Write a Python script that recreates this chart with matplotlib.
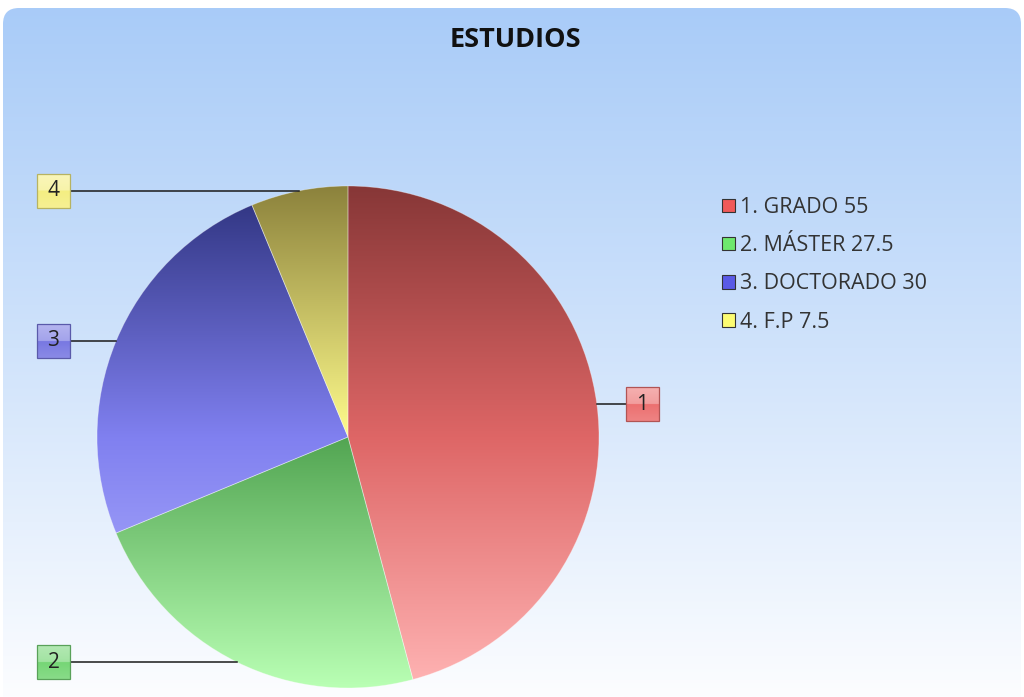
import numpy as np
import matplotlib
matplotlib.use("Agg")
import matplotlib.pyplot as plt
from matplotlib.patches import FancyBboxPatch, Rectangle, Patch

plt.rcParams['font.family'] = ['Open Sans', 'DejaVu Sans']

# data
title = "ESTUDIOS"
labels = ["GRADO", "MÁSTER", "DOCTORADO", "F.P"]
values = [55, 27.5, 30, 7.5]

# styles: vertical ramps (top, middle, bottom) for each slice
ramps = [
    [(135, 55, 55), (222, 102, 102), (255, 180, 180)],
    [(40, 110, 40), (82, 165, 82), (185, 255, 180)],
    [(45, 50, 125), (128, 128, 240), (185, 185, 255)],
    [(140, 130, 60), (255, 252, 140), (255, 255, 200)],
]
legend_colors = ["#f05a5a", "#6ee86e", "#5a5ae6", "#fcfc72"]
tag_colors = [(236, 112, 112), (118, 214, 118), (120, 120, 226), (244, 238, 130)]

W, H = 1024, 697
fig = plt.figure(figsize=(W / 100, H / 100), dpi=100)
ax = fig.add_axes([0, 0, 1, 1])


def ramp(stops, n=256):
    s = np.array(stops, dtype=float) / 255.0
    t = np.linspace(0, 1, n)
    out = np.empty((n, 1, 3))
    for k in range(3):
        out[:, 0, k] = np.interp(t, [0, 0.5, 1], s[:, k])
    return out


# background panel with rounded corners and blue->white gradient
panel = FancyBboxPatch((3, -20), W - 6, H - 8 + 20,
                       boxstyle="round,pad=0,rounding_size=16",
                       facecolor="none", edgecolor="none")
ax.add_patch(panel)
bg = ramp([(168, 203, 248), (208, 227, 251), (252, 253, 255)])
im = ax.imshow(bg, extent=(0, W, 0, H), aspect="auto", origin="upper", zorder=0)
im.set_clip_path(panel)

# pie
cx, cy, r = 348, H - 437, 251
wedges, _ = ax.pie(values, startangle=90, counterclock=False,
                   center=(cx, cy), radius=r,
                   wedgeprops=dict(facecolor="none", edgecolor=(1, 1, 1, 0.35),
                                   linewidth=0.6))
for w, stops in zip(wedges, ramps):
    g = ax.imshow(ramp(stops), extent=(cx - r, cx + r, cy - r, cy + r),
                  aspect="auto", origin="upper", zorder=1)
    g.set_clip_path(w)
    w.set_zorder(2)

# number tags with leader lines
tag_w, tag_h = 33, 34
for i, w in enumerate(wedges):
    ang = np.deg2rad((w.theta1 + w.theta2) / 2)
    px, py = cx + r * np.cos(ang), cy + r * np.sin(ang)
    if np.cos(ang) > 0:
        bx = px + 29
        lx = bx
    else:
        bx = 37
        lx = bx + tag_w
    ax.plot([px, lx], [py, py], color="#1a1a1a", lw=1.1, zorder=3)
    c = np.array(tag_colors[i]) / 255.0
    light = c + (1 - c) * 0.45
    tag = Rectangle((bx, py - tag_h / 2), tag_w, tag_h, facecolor="none",
                    edgecolor=tuple(c * 0.75), linewidth=0.9, zorder=5)
    ax.add_patch(tag)
    t = np.linspace(0, 1, 64)
    arr = np.empty((64, 1, 3))
    for k in range(3):
        arr[:, 0, k] = np.where(t < 0.5, light[k] + (c[k] - light[k]) * t * 0.6,
                                c[k] + (light[k] - c[k]) * (t - 0.5) * 0.6)
    gi = ax.imshow(arr, extent=(bx, bx + tag_w, py - tag_h / 2, py + tag_h / 2),
                   aspect="auto", origin="upper", zorder=4)
    gi.set_clip_path(tag)
    ax.text(bx + tag_w / 2, py, str(i + 1), ha="center", va="center",
            fontsize=15, color="#222222", zorder=6)

# legend
handles = [Patch(facecolor=c, edgecolor="#333333", linewidth=0.8) for c in legend_colors]
names = [f"{i + 1}. {lab} {v:g}" for i, (lab, v) in enumerate(zip(labels, values))]
ax.legend(handles, names, loc="upper left", bbox_to_anchor=(722 / W, 1 - 197 / H),
          frameon=False, fontsize=15.5, borderpad=0, borderaxespad=0,
          handlelength=0.6, handleheight=0.6, handletextpad=0.25,
          labelspacing=0.8, labelcolor="#333333")

ax.text(515, H - 40, title, ha="center", va="center", fontsize=19.5,
        fontweight="bold", color="#111111")

ax.set_xlim(0, W)
ax.set_ylim(0, H)
ax.set_aspect("auto")
ax.axis("off")
fig.savefig("out.png", dpi=100, facecolor="white")
